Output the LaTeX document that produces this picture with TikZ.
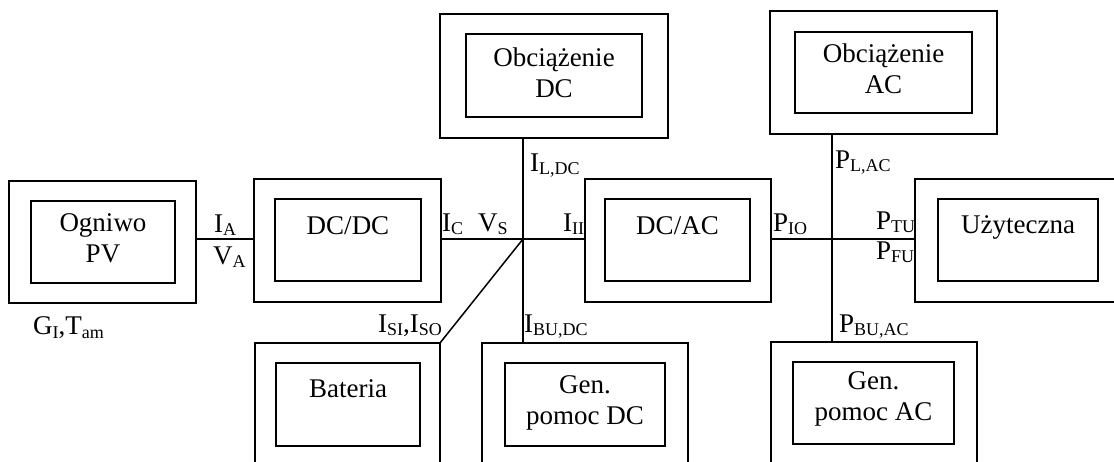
\documentclass[tikz,border=0pt]{standalone}
\usepackage{fontspec}
\setmainfont{Liberation Serif}
\newcommand\sbs[1]{\raisebox{-3pt}{\fontsize{18}{18}\selectfont #1}}
\begin{document}
\begin{tikzpicture}[x=1pt,y=-1pt,
  outerbox/.style={draw,line width=1.6pt,inner sep=0pt,outer sep=0pt},
  innerbox/.style={draw,line width=1.6pt,inner sep=0pt,outer sep=0pt},
  boxtext/.style={anchor=north,inner sep=0pt,align=center,font=\fontsize{27}{31}\selectfont,execute at begin node=\strut},
  lbl/.style={anchor=base west,inner sep=0pt,font=\fontsize{27}{31}\selectfont},
  wire/.style={line width=1.5pt}]
\useasboundingbox (0,0) rectangle (1114,462);
\clip (0,0) rectangle (1114,462);
% boxes: corners (x1,y1)-(x2,y2)
\node[outerbox,minimum width=187,minimum height=122] (pvO) at (102.5,242) {};
\node[innerbox,minimum width=144,minimum height=82] (pvI) at (103,242) {};
\node[outerbox,minimum width=187,minimum height=123] (dcdcO) at (347.5,240.5) {};
\node[innerbox,minimum width=146,minimum height=82] (dcdcI) at (348,240) {};
\node[outerbox,minimum width=186,minimum height=123] (dcacO) at (678,240.5) {};
\node[innerbox,minimum width=145,minimum height=82] (dcacI) at (677.5,240) {};
\node[outerbox,minimum width=205,minimum height=123] (uzO) at (1017.5,240.5) {};
\node[innerbox,minimum width=160,minimum height=82] (uzI) at (1018,240) {};
\node[outerbox,minimum width=228,minimum height=124] (obdcO) at (554,76) {};
\node[innerbox,minimum width=176,minimum height=83] (obdcI) at (554,75.5) {};
\node[outerbox,minimum width=227,minimum height=123] (obacO) at (883.5,72.5) {};
\node[innerbox,minimum width=177,minimum height=81] (obacI) at (883.5,72.5) {};
\node[outerbox,minimum width=185,minimum height=123] (batO) at (347.5,404.5) {};
\node[innerbox,minimum width=144,minimum height=83] (batI) at (348,404.5) {};
\node[outerbox,minimum width=206,minimum height=123] (gdcO) at (585,404.5) {};
\node[innerbox,minimum width=160,minimum height=83] (gdcI) at (585,404.5) {};
\node[outerbox,minimum width=206,minimum height=124] (gacO) at (874,404) {};
\node[innerbox,minimum width=161,minimum height=82] (gacI) at (873.5,403) {};
% box texts
\node[boxtext] (pvT) at (103,213.3) {Ogniwo\\PV};
\node[boxtext] (dcdcT) at (348,212.3) {DC/DC};
\node[boxtext] (dcacT) at (677.5,212.3) {DC/AC};
\node[boxtext] (uzT) at (1018,211.3) {Użyteczna};
\node[boxtext] (obdcT) at (554,47.3) {Obciążenie\\DC};
\node[boxtext] (obacT) at (883.5,43.3) {Obciążenie\\AC};
\node[boxtext] (batT) at (348,375.3) {Bateria};
\node[boxtext] (gdcT) at (585,375.3) {Gen.\\pomoc DC};
\node[boxtext] (gacT) at (873.5,371.3) {Gen.\\pomoc AC};
% junctions
\coordinate (jdc) at (523,239);
\coordinate (jac) at (832,239);
% wires
\draw[wire] (pvO.east |- jdc) -- (dcdcO.west |- jdc);
\draw[wire] (dcdcO.east |- jdc) -- (jdc) -- (dcacO.west |- jdc);
\draw[wire] (obdcO.south -| jdc) -- (gdcO.north -| jdc);
\draw[wire] (jdc) -- (batO.north east);
\draw[wire] (dcacO.east |- jac) -- (uzO.west |- jac);
\draw[wire] (obacO.south -| jac) -- (gacO.north -| jac);
% labels
\node[lbl] (lG) at (33,335) {G\sbs{I},T\sbs{am}};
\node[lbl] (lIA) at (214,233) {I\sbs{A}};
\node[lbl] (lVA) at (213,265) {V\sbs{A}};
\node[lbl] (lIC) at (442,232) {I\sbs{C}};
\node[lbl] (lVS) at (478,232) {V\sbs{S}};
\node[lbl] (lII) at (563,232) {I\sbs{II}};
\node[lbl] (lPIO) at (773,232) {P\sbs{IO}};
\node[lbl] (lPTU) at (876,230) {P\sbs{TU}};
\node[lbl] (lPFU) at (876,260) {P\sbs{FU}};
\node[lbl] (lPBU) at (839,333) {P\sbs{BU,AC}};
\node[lbl] (lIBU) at (524,333) {I\sbs{BU,DC}};
\node[lbl,anchor=base east] (lIS) at (442,333) {I\sbs{SI},I\sbs{SO}};
\node[lbl] (lIL) at (530,172) {I\sbs{L,DC}};
\node[lbl] (lPL) at (835,169) {P\sbs{L,AC}};
\end{tikzpicture}
\end{document}
